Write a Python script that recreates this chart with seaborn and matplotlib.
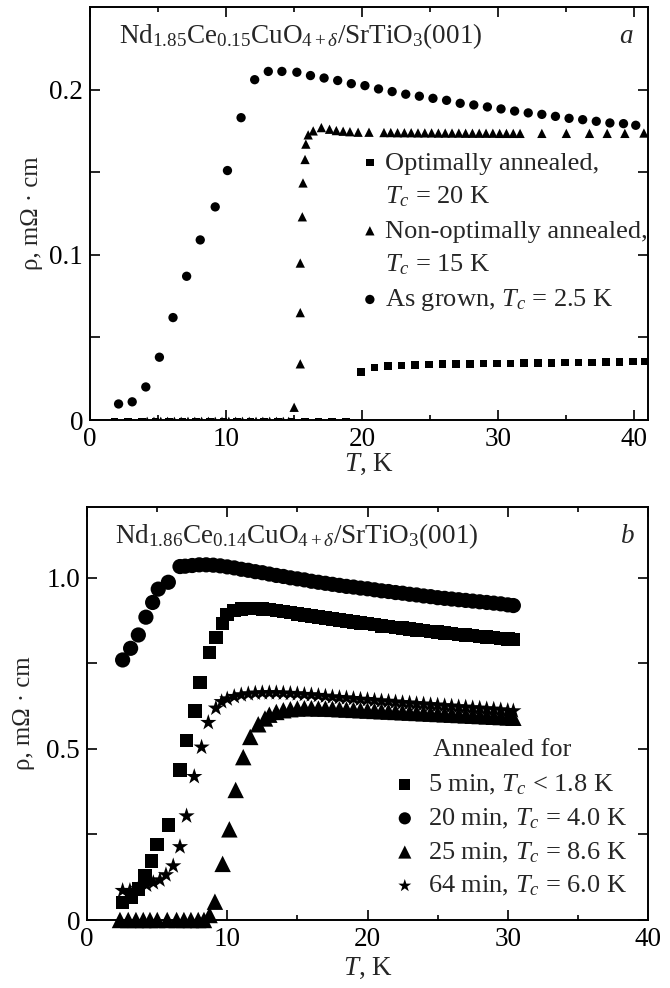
import matplotlib
matplotlib.use("Agg")
import matplotlib.pyplot as plt
from matplotlib.lines import Line2D
import seaborn as sns

# ---- panel a: Nd1.85Ce0.15CuO4/SrTiO3 ----
a_grown_T = [2.1, 3.1, 4.1, 5.1, 6.1, 7.1, 8.1, 9.2, 10.1, 11.1, 12.1, 13.1, 14.1, 15.2,
             16.2, 17.2, 18.2, 19.2, 20.2, 21.2, 22.2, 23.2, 24.2, 25.2, 26.2, 27.2, 28.2,
             29.2, 30.2, 31.2, 32.2, 33.2, 34.2, 35.2, 36.2, 37.2, 38.2, 39.2, 40.1]
a_grown_rho = [0.0097, 0.011, 0.020, 0.038, 0.062, 0.087, 0.109, 0.129, 0.151, 0.183, 0.206,
               0.211, 0.211, 0.2105, 0.2085, 0.207, 0.2055, 0.2036, 0.2024, 0.2004, 0.1988,
               0.1972, 0.196, 0.1947, 0.1935, 0.1917, 0.1907, 0.1895, 0.1883, 0.187, 0.1859,
               0.185, 0.1838, 0.1826, 0.1818, 0.1808, 0.1798, 0.1794, 0.1784]

a_non_T = [4.2, 4.7, 5.2, 5.7, 6.2, 6.7, 7.2, 7.7, 8.2, 8.7, 9.2, 9.7, 10.2, 10.7, 11.2, 11.7,
           12.2, 12.7, 13.2, 13.7, 14.2, 14.6,
           15.0, 15.45, 15.45, 15.45, 15.6, 15.65, 15.8, 15.86, 16.03, 16.4, 17.0, 17.6, 18.1,
           18.6, 19.1, 19.7, 20.5,
           21.6, 22.1, 22.6, 23.1, 23.6, 24.1, 24.6, 25.1, 25.6, 26.1, 26.6, 27.1, 27.6, 28.1,
           28.6, 29.1, 29.6, 30.1, 30.6, 31.1, 31.6,
           33.2, 35.0, 36.7, 38.0, 39.3, 40.7]
a_non_rho = [-0.0008] * 22 + [
    0.0077, 0.034, 0.065, 0.095, 0.123, 0.1435, 0.1577, 0.167, 0.1726, 0.175, 0.177, 0.176,
    0.1752, 0.1748, 0.1745, 0.1742, 0.1742,
    0.1740, 0.1740, 0.1739, 0.1739, 0.1739, 0.1738, 0.1738, 0.1738, 0.1737, 0.1737, 0.1737,
    0.1737, 0.1736, 0.1736, 0.1736, 0.1736, 0.1736, 0.1735, 0.1735, 0.1735, 0.1735,
    0.1735, 0.1735, 0.1735, 0.1735, 0.1735, 0.1737]

a_opt_T = [1.8, 2.8, 3.8, 4.8, 5.8, 6.8, 7.8, 8.8, 9.8, 10.8, 11.8, 12.8, 13.8, 14.8, 15.8,
           16.8, 17.8, 18.8,
           19.9, 20.9, 21.9, 22.9, 23.9, 24.9, 25.9, 26.9, 27.9, 28.9, 29.9, 30.9, 31.9, 32.9,
           33.9, 34.9, 35.9, 36.9, 37.9, 38.9, 39.9, 40.8]
a_opt_rho = [-0.0008] * 18 + [
    0.0289, 0.0317, 0.0327, 0.0331, 0.0334, 0.0336, 0.0338, 0.0339, 0.034, 0.0341, 0.0342,
    0.0343, 0.0344, 0.0345, 0.0346, 0.0347, 0.0348, 0.0349, 0.035, 0.0351, 0.0353, 0.0355]

# ---- panel b: Nd1.86Ce0.14CuO4/SrTiO3, annealing series ----
b_grid = [10.0, 10.5, 11.0, 11.5, 12.0, 12.5, 13.0, 13.5, 14.0, 14.5, 15.0, 15.5, 16.0, 16.5,
          17.0, 17.5, 18.0, 18.5, 19.0, 19.5, 20.0, 20.5, 21.0, 21.5, 22.0, 22.5, 23.0, 23.5,
          24.0, 24.5, 25.0, 25.5, 26.0, 26.5, 27.0, 27.5, 28.0, 28.5, 29.0, 29.5, 30.0, 30.4]

b20_T = [2.54, 3.11, 3.66, 4.2, 4.68, 5.08, 5.8, 6.63, 7.0, 7.5, 8.0, 8.5, 9.0, 9.5]
b20_rho = [0.760, 0.794, 0.833, 0.885, 0.928, 0.967, 0.987, 1.033, 1.034, 1.036, 1.038,
           1.038, 1.037, 1.035]
b20_dense = [1.032, 1.029, 1.025, 1.022, 1.018, 1.015, 1.011, 1.007, 1.004, 1.000, 0.997,
             0.994, 0.990, 0.987, 0.984, 0.981, 0.978, 0.975, 0.973, 0.970, 0.968, 0.965,
             0.962, 0.960, 0.957, 0.955, 0.952, 0.950, 0.947, 0.945, 0.942, 0.940, 0.938,
             0.936, 0.934, 0.932, 0.930, 0.928, 0.926, 0.924, 0.921, 0.919]

b5_T = [2.54, 3.18, 3.66, 4.13, 4.61, 5.01, 5.80, 6.63, 7.1, 7.7, 8.05, 8.72, 9.19, 9.67]
b5_rho = [0.051, 0.068, 0.090, 0.129, 0.173, 0.221, 0.278, 0.439, 0.524, 0.611, 0.694,
          0.782, 0.826, 0.867]
b5_dense = [0.893, 0.904, 0.909, 0.911, 0.911, 0.909, 0.907, 0.904, 0.901, 0.898, 0.895,
            0.892, 0.889, 0.886, 0.883, 0.880, 0.877, 0.874, 0.871, 0.868, 0.866, 0.863,
            0.860, 0.858, 0.855, 0.853, 0.850, 0.848, 0.846, 0.843, 0.841, 0.839, 0.837,
            0.835, 0.833, 0.831, 0.829, 0.827, 0.825, 0.823, 0.821, 0.820]

b64_T = [2.54, 3.06, 3.66, 4.25, 4.73, 5.2, 5.63, 6.15, 6.63, 7.1, 7.65, 8.17, 8.65, 9.19, 9.6]
b64_rho = [0.086, 0.086, 0.092, 0.102, 0.109, 0.117, 0.132, 0.158, 0.214, 0.304, 0.419,
           0.505, 0.577, 0.619, 0.638]
b64_dense = [0.646, 0.653, 0.658, 0.661, 0.663, 0.664, 0.664, 0.664, 0.663, 0.662, 0.661,
             0.659, 0.658, 0.656, 0.654, 0.652, 0.650, 0.649, 0.647, 0.645, 0.644, 0.642,
             0.640, 0.639, 0.637, 0.635, 0.634, 0.632, 0.631, 0.629, 0.628, 0.626, 0.625,
             0.623, 0.622, 0.620, 0.619, 0.617, 0.616, 0.614, 0.612, 0.611]

b25_T = [2.35, 2.94, 3.49, 4.01, 4.49, 5.01, 5.72, 6.39, 6.91, 7.41, 7.93, 8.34,
         8.74, 9.12, 9.67, 10.15, 10.6, 11.14, 11.64, 12.21, 12.69]
b25_rho = [0.0] * 12 + [0.0146, 0.0535, 0.164, 0.265, 0.380, 0.476, 0.535, 0.572, 0.589]
b25_dense = [0.600, 0.608, 0.613, 0.616, 0.618, 0.619, 0.619, 0.618, 0.618, 0.617, 0.616,
             0.615, 0.614, 0.613, 0.612, 0.611, 0.610, 0.609, 0.608, 0.607, 0.606, 0.605,
             0.604, 0.603, 0.602, 0.601, 0.600, 0.599, 0.598, 0.597, 0.596, 0.595, 0.594,
             0.593, 0.592, 0.591]

title_a = r"Nd$_{1.85}$Ce$_{0.15}$CuO$_{4+\delta}$/SrTiO$_3$(001)"
title_b = r"Nd$_{1.86}$Ce$_{0.14}$CuO$_{4+\delta}$/SrTiO$_3$(001)"
labels_a = ["Optimally annealed,", "$T_c$ = 20 K", "Non-optimally annealed,",
            "$T_c$ = 15 K", "As grown, $T_c$ = 2.5 K"]
labels_b = ["5 min, $T_c$ < 1.8 K", "20 min, $T_c$ = 4.0 K",
            "25 min, $T_c$ = 8.6 K", "64 min, $T_c$ = 6.0 K"]

# style
sns.set_theme(style="ticks")
plt.rcParams["font.family"] = ["Liberation Serif", "DejaVu Serif"]
plt.rcParams["mathtext.fontset"] = "custom"
plt.rcParams["mathtext.rm"] = "Liberation Serif"
plt.rcParams["mathtext.it"] = "Liberation Serif:italic"
plt.rcParams["mathtext.bf"] = "Liberation Serif:bold"
FS = 19.5      # ticks, titles
FS_LEG = 19    # legend entries
FS_YLAB = 17.8

fig = plt.figure(figsize=(6.7, 9.88), dpi=100)
ax_a = fig.add_axes([90 / 670, 1 - 420 / 988, 558 / 670, 413 / 988])
ax_b = fig.add_axes([87 / 670, 1 - 920 / 988, 561 / 670, 413 / 988])


def dots(ax, x, y, marker, s, clip=True):
    sns.scatterplot(x=x, y=y, ax=ax, marker=marker, s=s, color="black",
                    edgecolor="none", linewidth=0, legend=False, clip_on=clip)
    return ax.collections[-1]


def style_axes(ax, xmax, ymax, yticks, ylabels, yminor):
    ax.set_xlim(0, xmax)
    ax.set_ylim(0, ymax)
    ax.set_xticks([0, 10, 20, 30, 40])
    ax.set_xticks([5, 15, 25, 35], minor=True)
    ax.set_yticks(yticks)
    ax.set_yticklabels(ylabels)
    ax.set_yticks(yminor, minor=True)
    ax.tick_params(which="both", direction="in", top=True, right=True,
                   labelsize=FS, width=1.2, colors="black")
    ax.tick_params(which="major", length=7)
    ax.tick_params(axis="x", which="minor", length=3.5)
    ax.tick_params(axis="y", which="minor", length=7)
    ax.tick_params(axis="x", pad=5)
    ax.tick_params(axis="y", pad=5)
    for sp in ax.spines.values():
        sp.set_linewidth(1.4)
        sp.set_color("black")
    ax.set_xlabel("$T$, K", fontsize=FS)
    ax.set_ylabel("ρ, mΩ · cm", fontsize=FS_YLAB)


# panel a
h_opt = dots(ax_a, a_opt_T, a_opt_rho, "s", 30)
h_non = dots(ax_a, a_non_T, a_non_rho, "^", 45)
h_grown = dots(ax_a, a_grown_T, a_grown_rho, "o", 45)
style_axes(ax_a, 41, 0.25, [0, 0.1, 0.2], ["0", "0.1", "0.2"], [0.05, 0.15])
ax_a.xaxis.set_label_coords(0.5, -0.076)
ax_a.yaxis.set_label_coords(-0.085, 0.5)
ax_a.text(0.052, 0.912, title_a, transform=ax_a.transAxes, fontsize=FS, va="baseline")
ax_a.text(0.973, 0.912, "a", transform=ax_a.transAxes, fontsize=FS, va="baseline",
          ha="right", style="italic")
blank = Line2D([], [], linestyle="none")
ax_a.legend([h_opt, blank, h_non, blank, h_grown], labels_a, loc="upper left",
            bbox_to_anchor=(0.485, 0.651), frameon=False, fontsize=FS_LEG, handlelength=0.7,
            handletextpad=0.24, labelspacing=0.38, borderpad=0, borderaxespad=0)

# panel b
h5 = dots(ax_b, b5_T + b_grid, b5_rho + b5_dense, "s", 95, clip=False)
h20 = dots(ax_b, b20_T + b_grid, b20_rho + b20_dense, "o", 120, clip=False)
h25 = dots(ax_b, b25_T + b_grid[6:], b25_rho + b25_dense, "^", 140, clip=False)
h64 = dots(ax_b, b64_T + b_grid, b64_rho + b64_dense, "*", 150, clip=False)
style_axes(ax_b, 40, 1.207, [0, 0.5, 1.0], ["0", "0.5", "1.0"], [0.25, 0.75])
ax_b.xaxis.set_label_coords(0.5, -0.087)
ax_b.yaxis.set_label_coords(-0.092, 0.5)
ax_b.text(0.05, 0.912, title_b, transform=ax_b.transAxes, fontsize=FS, va="baseline")
ax_b.text(0.977, 0.912, "b", transform=ax_b.transAxes, fontsize=FS, va="baseline",
          ha="right", style="italic")
ax_b.text(0.617, 0.412, "Annealed for", transform=ax_b.transAxes, fontsize=FS_LEG,
          va="center")
ax_b.legend([h5, h20, h25, h64], labels_b, loc="upper left",
            bbox_to_anchor=(0.55, 0.356), frameon=False, fontsize=FS_LEG, handlelength=0.7,
            handletextpad=0.54, labelspacing=0.36, borderpad=0, borderaxespad=0,
            markerscale=0.8)

fig.savefig("out.png", dpi=100, facecolor="white")
